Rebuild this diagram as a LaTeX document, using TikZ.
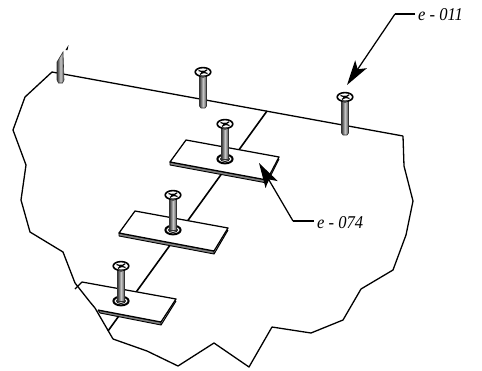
\documentclass[tikz,border=0pt]{standalone}
\usepackage{fontspec}
\setmainfont{Liberation Serif}
\usetikzlibrary{arrows.meta}
\tikzset{
  x=1pt,y=-1pt,
  edgeline/.style={draw=black,line width=1.3pt,line join=round},
  seam/.style={draw=black,line width=1.6pt},
  plateface/.style={fill=white,draw=black,line width=1.25pt,line join=round},
  plateside/.style={fill=black!50,draw=black,line width=.9pt,line join=round},
  shaft/.style={left color=black!78,right color=black!70,middle color=black!22,draw=black!80,line width=.6pt},
  headring/.style={fill=white,draw=black,line width=1.6pt},
  cross/.style={draw=black,line width=1.2pt},
  washer/.style={fill=white,draw=black,line width=2pt},
  leader/.style={draw=black,line width=1.25pt},
  pointer/.style={leader,-{Stealth[length=25pt,width=14pt,inset=6pt]}},
  tag/.style={font=\itshape\fontsize{18}{20}\selectfont,inner sep=0pt,anchor=west,xscale=.92,transform shape=false}
}
% head x, head y, end y
\newcommand{\headpart}[2]{%
  \draw[headring] (#1,#2) ellipse [x radius=7.8pt,y radius=4.4pt];
  \draw[cross] (#1-4.5,#2-1.5) -- (#1+4.5,#2+1.5) (#1+4,#2-2.2) -- (#1-3,#2+2.4);
  \fill[black] (#1,#2) ellipse [x radius=2.2pt,y radius=1.4pt];
  \fill[black!75] (#1-3.4,#2+3.6) -- (#1,#2+6) -- (#1+3.4,#2+3.6) -- cycle;
}
\newcommand{\loosescrew}[3]{%
  \path[shaft] (#1-3.5,#2+4) -- (#1+3.5,#2+4) -- (#1+3.5,#3-2) -- (#1+2,#3) -- (#1-2,#3) -- (#1-3.5,#3-2) -- cycle;
  \headpart{#1}{#2}
}
\newcommand{\platescrew}[3]{%
  \draw[washer] (#1,#3) ellipse [x radius=7.6pt,y radius=4.4pt];
  \draw[black,line width=1pt] (#1,#3) ellipse [x radius=4.4pt,y radius=2.4pt];
  \path[shaft] (#1-3.5,#2+4) -- (#1+3.5,#2+4) -- (#1+3.5,#3) -- (#1-3.5,#3) -- cycle;
  \headpart{#1}{#2}
}
\begin{document}
\begin{tikzpicture}
\useasboundingbox (0,0) rectangle (482,370);
% seam
\coordinate (seamtop) at (267,111);
\coordinate (seamend) at (108,331);
\draw[seam] (seamtop) -- (seamend);
% sheet outline
\draw[edgeline] (403,136) -- (404,166) -- (413,201) -- (406,235) -- (393,270) -- (361,289)
  -- (343,320) -- (311,333) -- (272,327) -- (249,367) -- (214,343) -- (178,366) -- (147,351) -- (113,339);
\draw[edgeline] (403,136) -- (52,72) -- (25,97) -- (13,130) -- (26,165) -- (21,200) -- (30,232) -- (63,252) -- (75,283);
% plates
\fill[plateside,draw=black] (170,162) -- (267,180) -- (267,183) -- (170,165) -- cycle;
\fill[plateface] (186,140) -- (279,157) -- (267,180) -- (170,162) -- cycle;
\draw[black,line width=1.1pt] (267,183) -- (279,159);
\fill[plateside,draw=black] (119,233) -- (214,251) -- (214,254) -- (119,236) -- cycle;
\fill[plateface] (135,211) -- (228,228) -- (214,251) -- (119,233) -- cycle;
\draw[black,line width=1.1pt] (214,254) -- (228,230);
\fill[plateside,draw=black] (98,310) -- (161,322) -- (161,325) -- (100,313) -- cycle;
\path[fill=white] (75,289) -- (82,282) -- (176,299) -- (161,322) -- (98,310) -- cycle;
\draw[plateface,fill=none] (75,289) -- (82,282) -- (176,299) -- (161,322) -- (98,310);
\draw[black,line width=1.1pt] (161,325) -- (176,301);
% near corner of the outline over the plate
\draw[edgeline] (75,283) -- (90,302) -- (95,308) -- (113,339);
% screws
\path[shaft] (57,62) -- (63,52) -- (64,80) -- (62.5,83) -- (58.5,83) -- (57,80) -- cycle;
\fill[black] (65.5,50) -- (68.5,45) -- (67.5,50) -- cycle;
\loosescrew{203}{72}{108}
\loosescrew{345}{97}{135}
\platescrew{225}{124}{159}
\platescrew{173}{195}{230}
\platescrew{121}{266}{301}
% callouts
\node[tag] (lbla) at (418,15) {e - 011};
\node[tag] (lblb) at (317,222.5) {e - 074};
\coordinate (bendA) at (395,14);
\coordinate (tipA) at (347,85);
\coordinate (bendB) at (293,221);
\coordinate (tipB) at (259,163);
\draw[leader] (lbla.west) ++(-3,-1) -- (bendA);
\draw[pointer] (bendA) -- (tipA);
\draw[leader] (lblb.west) ++(-3,-1.5) -- (bendB);
\draw[pointer] (bendB) -- (tipB);
\end{tikzpicture}
\end{document}
